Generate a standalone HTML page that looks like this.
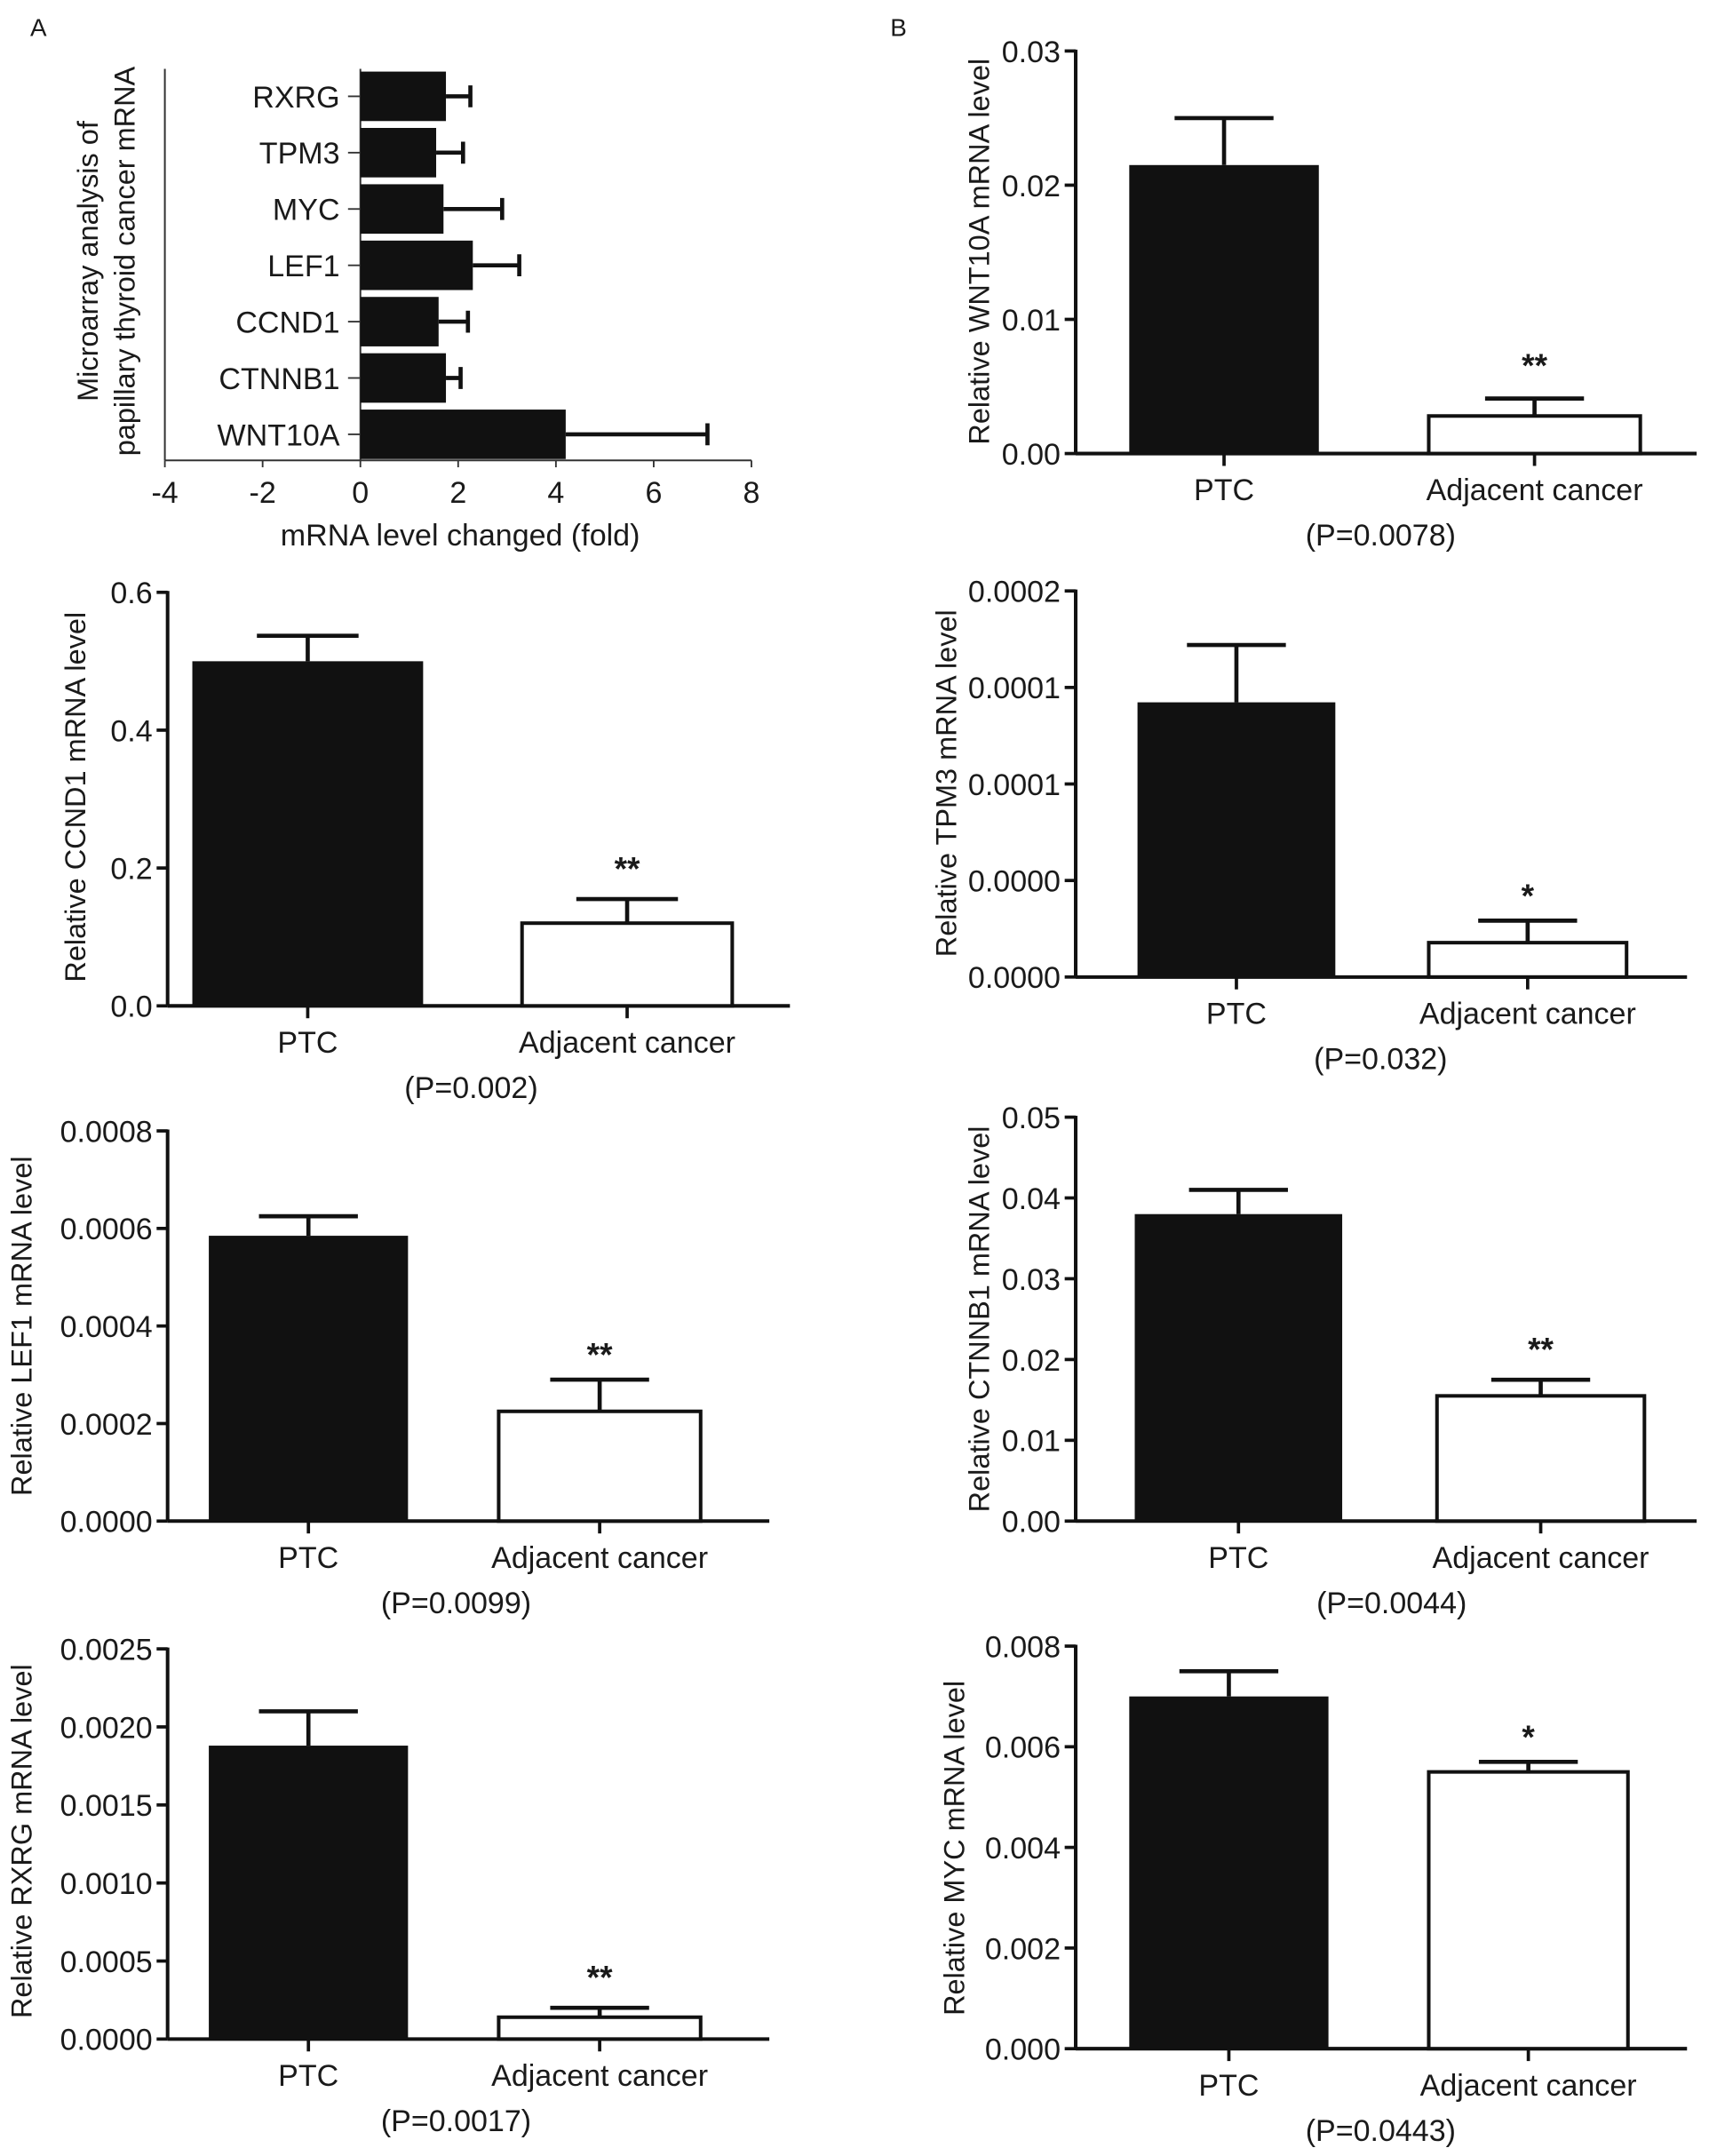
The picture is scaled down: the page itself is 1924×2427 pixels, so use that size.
<!DOCTYPE html>
<html><head><meta charset="utf-8"><style>
html,body{margin:0;padding:0;background:#fff;}
svg{display:block;}
text{font-family:"Liberation Sans",Arial,sans-serif;fill:#1a1a1a;}
</style></head><body>
<svg id="fig" width="1924" height="2427" viewBox="0 0 1244 1569" xmlns="http://www.w3.org/2000/svg">
<text x="22" y="26" font-size="18">A</text>
<text x="648" y="26" font-size="18">B</text>
</svg>
<script>
// ---- Panel A (horizontal microarray) data ----
const aGenes = ["RXRG","TPM3","MYC","LEF1","CCND1","CTNNB1","WNT10A"];
const aValues = [1.75,1.55,1.7,2.3,1.6,1.75,4.2];
const aErrors = [2.25,2.1,2.9,3.25,2.2,2.05,7.1];
const aTicks = [-4,-2,0,2,4,6,8];

// ---- Bar panels data ----
const groups = ["PTC","Adjacent cancer"];
const wntValues = [0.0215,0.0028];
const wntErrors = [0.025,0.0041];
const wntTicks = ["0.00","0.01","0.02","0.03"];
const ccndValues = [0.5,0.12];
const ccndErrors = [0.537,0.155];
const ccndTicks = ["0.0","0.2","0.4","0.6"];
const tpmValues = [0.0001423,0.0000178];
const tpmErrors = [0.000172,0.0000292];
const tpmTicks = ["0.0000","0.0000","0.0001","0.0001","0.0002"];
const lefValues = [0.000585,0.000225];
const lefErrors = [0.000625,0.00029];
const lefTicks = ["0.0000","0.0002","0.0004","0.0006","0.0008"];
const ctnValues = [0.038,0.0155];
const ctnErrors = [0.041,0.0175];
const ctnTicks = ["0.00","0.01","0.02","0.03","0.04","0.05"];
const rxrValues = [0.00188,0.00014];
const rxrErrors = [0.0021,0.0002];
const rxrTicks = ["0.0000","0.0005","0.0010","0.0015","0.0020","0.0025"];
const mycValues = [0.007,0.0055];
const mycErrors = [0.0075,0.0057];
const mycTicks = ["0.000","0.002","0.004","0.006","0.008"];

const NS="http://www.w3.org/2000/svg";
const svg=document.getElementById('fig');
function mk(tag,attrs,parent){const e=document.createElementNS(NS,tag);for(const k in attrs)e.setAttribute(k,attrs[k]);(parent||svg).appendChild(e);return e;}
function txt(s,attrs,parent){const e=mk('text',attrs,parent);e.textContent=s;return e;}

// Panel A
(function(){
  const g=mk('g',{});
  
  
  const x0=120,x1=547,yTop=50,yBase=335,xmin=-4,xmax=8;
  const X=v=>x0+(v-xmin)/(xmax-xmin)*(x1-x0);
  const rowTop=70,rowStep=41.0,bh=36;
  const Y=i=>rowTop+i*rowStep;
  const ya=mk('line',{x1:x0,y1:yTop,x2:x0,y2:yBase,stroke:'#333','stroke-width':1.3},g);
  
  const xa=mk('line',{x1:x0,y1:yBase,x2:x1,y2:yBase,stroke:'#333','stroke-width':1.3},g);
  
  mk('line',{x1:X(0),y1:yTop,x2:X(0),y2:yBase,stroke:'#333','stroke-width':1.3},g);
  aTicks.forEach(t=>{
    mk('line',{x1:X(t),y1:yBase,x2:X(t),y2:yBase+5,stroke:'#333','stroke-width':1.2},g);
    const l=txt(String(t),{x:X(t),y:yBase+31,'font-size':22,'text-anchor':'middle'},g);
    
  });
  aGenes.forEach((gname,i)=>{
    const cy=Y(i);
    mk('line',{x1:X(0)-9,y1:cy,x2:X(0),y2:cy,stroke:'#333','stroke-width':1.2},g);
    const l=txt(gname,{x:X(0)-15,y:cy+8,'font-size':22,'text-anchor':'end'},g);
    
    const r=mk('rect',{x:X(0),y:cy-bh/2,width:X(aValues[i])-X(0),height:bh,fill:'#111'},g);
    
    const e=mk('path',{d:`M${X(aValues[i])},${cy}H${X(aErrors[i])}M${X(aErrors[i])},${cy-8}V${cy+8}`,stroke:'#111','stroke-width':3,fill:'none'},g);
    
  });
  const xl=txt('mRNA level changed (fold)',{x:335,y:397,'font-size':22,'text-anchor':'middle'},g);
  
  const yl1=txt('Microarray analysis of',{x:0,y:0,'font-size':21,'text-anchor':'middle',transform:'translate(71,190) rotate(-90)'},g);
  
  const yl2=txt('papillary thyroid cancer mRNA',{x:0,y:0,'font-size':21,'text-anchor':'middle',transform:'translate(98,190) rotate(-90)'},g);
  
})();

function barPanel(o){
  const g=mk('g',{});
  
  
  const n=o.ticks.length-1;
  const Y=v=>o.y0-(v/o.max)*(o.y0-o.yTop);
  const ya=mk('line',{x1:o.ax,y1:o.yTop-1,x2:o.ax,y2:o.y0,stroke:'#111','stroke-width':2.6},g);
  
  const xa=mk('line',{x1:o.ax,y1:o.y0,x2:o.axEnd,y2:o.y0,stroke:'#111','stroke-width':2.6},g);
  
  o.ticks.forEach((t,i)=>{
    const v=o.max*i/n, y=Y(v);
    mk('line',{x1:o.ax-8,y1:y,x2:o.ax,y2:y,stroke:'#111','stroke-width':2.4},g);
    const l=txt(t,{x:o.ax-11,y:y+8,'font-size':22,'text-anchor':'end'},g);
    
  });
  o.vals.forEach((v,i)=>{
    const [bx0,bx1]=o.bars[i]; const c=(bx0+bx1)/2;
    const r=mk('rect',{x:bx0,y:Y(v),width:bx1-bx0,height:o.y0-Y(v),fill:i==0?'#111':'#fff',stroke:'#111','stroke-width':i==0?0:2.6},g);
    
    const cw=o.cap;
    const e=mk('path',{d:`M${c},${Y(v)}V${Y(o.errs[i])}M${c-cw},${Y(o.errs[i])}H${c+cw}`,stroke:'#111','stroke-width':3,fill:'none'},g);
    
    mk('line',{x1:c,y1:o.y0,x2:c,y2:o.y0+9,stroke:'#111','stroke-width':2.4},g);
    const l=txt(groups[i],{x:c,y:o.y0+34,'font-size':22,'text-anchor':'middle'},g);
    
  });
  const c2=(o.bars[1][0]+o.bars[1][1])/2;
  const s=txt(o.star,{x:c2,y:Y(o.errs[1])-o.starGap+4,'font-size':24,'font-weight':'bold','text-anchor':'middle'},g);
  
  const p=txt(o.p,{x:o.px,y:o.y0+67,'font-size':22,'text-anchor':'middle'},g);
  
  const yl=txt(o.ylabel,{x:0,y:0,'font-size':21,'text-anchor':'middle',transform:`translate(${o.ylx},${o.ylc}) rotate(-90)`},g);
  
}

barPanel({name:'wnt10a-chart',ax:783,axEnd:1235,yTop:37,y0:330,max:0.03,ticks:wntTicks,vals:wntValues,errs:wntErrors,bars:[[822,960],[1040,1194]],cap:36,star:'**',starGap:20,p:'(P=0.0078)',px:1005,ylabel:'Relative WNT10A mRNA level',ylx:720,ylc:183});
barPanel({name:'ccnd1-chart',ax:122,axEnd:575,yTop:431,y0:732,max:0.6,ticks:ccndTicks,vals:ccndValues,errs:ccndErrors,bars:[[140,308],[380,533]],cap:37,star:'**',starGap:18,p:'(P=0.002)',px:343,ylabel:'Relative CCND1 mRNA level',ylx:62,ylc:580});
barPanel({name:'tpm3-chart',ax:783,axEnd:1228,yTop:430,y0:711,max:0.0002,ticks:tpmTicks,vals:tpmValues,errs:tpmErrors,bars:[[828,972],[1040,1184]],cap:36,star:'*',starGap:14,p:'(P=0.032)',px:1005,ylabel:'Relative TPM3 mRNA level',ylx:696,ylc:570});
barPanel({name:'lef1-chart',ax:122,axEnd:560,yTop:823,y0:1107,max:0.0008,ticks:lefTicks,vals:lefValues,errs:lefErrors,bars:[[152,297],[363,510]],cap:36,star:'**',starGap:14,p:'(P=0.0099)',px:332,ylabel:'Relative LEF1 mRNA level',ylx:23,ylc:965});
barPanel({name:'ctnnb1-chart',ax:783,axEnd:1235,yTop:813,y0:1107,max:0.05,ticks:ctnTicks,vals:ctnValues,errs:ctnErrors,bars:[[826,977],[1046,1197]],cap:36,star:'**',starGap:18,p:'(P=0.0044)',px:1013,ylabel:'Relative CTNNB1 mRNA level',ylx:720,ylc:960});
barPanel({name:'rxrg-chart',ax:122,axEnd:560,yTop:1200,y0:1484,max:0.0025,ticks:rxrTicks,vals:rxrValues,errs:rxrErrors,bars:[[152,297],[363,510]],cap:36,star:'**',starGap:18,p:'(P=0.0017)',px:332,ylabel:'Relative RXRG mRNA level',ylx:23,ylc:1340});
barPanel({name:'myc-chart',ax:783,axEnd:1228,yTop:1198,y0:1491,max:0.008,ticks:mycTicks,vals:mycValues,errs:mycErrors,bars:[[822,967],[1040,1185]],cap:36,star:'*',starGap:14,p:'(P=0.0443)',px:1005,ylabel:'Relative MYC mRNA level',ylx:702,ylc:1345});
</script>
</body></html>
